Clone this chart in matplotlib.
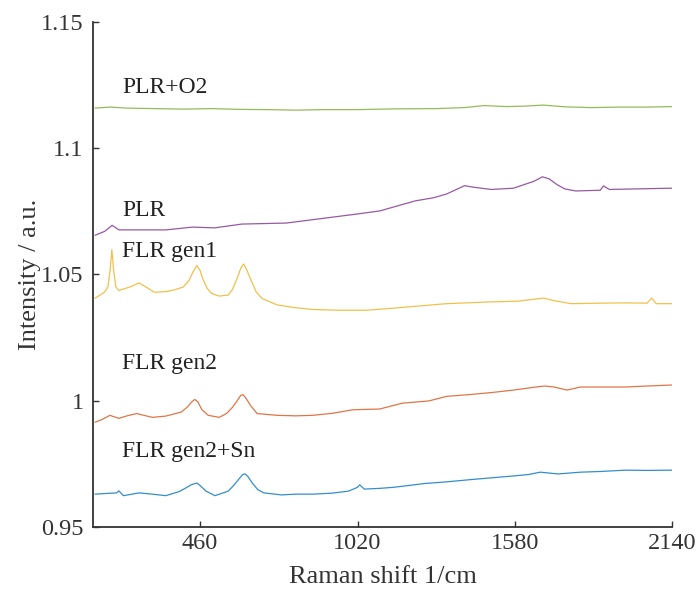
import numpy as np
import matplotlib.pyplot as plt

## Raman spectra

# FLR gen2+Sn (blue)
x_sn = [87, 130, 163, 171, 187, 243, 290, 338, 385, 410, 430, 449, 462, 481, 513, 560, 580, 598, 612, 620,
        630, 645, 665, 687, 750, 800, 861, 930, 988, 1020, 1028, 1044, 1100, 1147, 1200, 1258, 1330, 1417,
        1500, 1575, 1630, 1670, 1734, 1813, 1890, 1972, 2050, 2138]
y_sn = [0.9630, 0.9633, 0.9635, 0.9643, 0.9624, 0.9635, 0.9630, 0.9624, 0.9640, 0.9655, 0.9668, 0.9674,
        0.9662, 0.9642, 0.9624, 0.9642, 0.9665, 0.9690, 0.9708, 0.9710, 0.9700, 0.9675, 0.9648, 0.9635,
        0.9627, 0.9630, 0.9630, 0.9634, 0.9642, 0.9657, 0.9667, 0.9650, 0.9653, 0.9657, 0.9664, 0.9672,
        0.9678, 0.9687, 0.9695, 0.9702, 0.9708, 0.9717, 0.9710, 0.9717, 0.9720, 0.9725, 0.9724, 0.9725]

# FLR gen2 (orange)
x_g2 = [87, 110, 139, 171, 200, 235, 260, 290, 338, 393, 415, 430, 441, 452, 466, 489, 528, 555, 576, 592,
        604, 612, 622, 640, 663, 734, 800, 861, 930, 1004, 1099, 1179, 1274, 1337, 1417, 1496, 1575, 1654,
        1686, 1720, 1750, 1766, 1813, 1890, 1972, 2050, 2138]
y_g2 = [0.9915, 0.9925, 0.9942, 0.9930, 0.9940, 0.9949, 0.9942, 0.9934, 0.9939, 0.9955, 0.9975, 0.9995,
        1.0005, 0.9995, 0.9965, 0.9942, 0.9934, 0.9950, 0.9975, 1.0000, 1.0020, 1.0024, 1.0012, 0.9980,
        0.9949, 0.9942, 0.9940, 0.9942, 0.9950, 0.9964, 0.9967, 0.9990, 0.9999, 1.0017, 1.0024, 1.0032,
        1.0042, 1.0054, 1.0058, 1.0054, 1.0046, 1.0042, 1.0054, 1.0054, 1.0054, 1.0058, 1.0062]

# FLR gen1 (yellow)
x_g1 = [87, 120, 132, 140, 146, 152, 160, 171, 210, 243, 270, 298, 340, 370, 400, 420, 435, 448, 460, 470,
        485, 500, 528, 560, 575, 592, 605, 615, 625, 640, 660, 680, 734, 800, 861, 950, 1052, 1179, 1337,
        1496, 1591, 1683, 1718, 1781, 1880, 1972, 2050, 2067, 2083, 2138]
y_g1 = [1.0406, 1.0430, 1.0451, 1.0520, 1.0598, 1.0520, 1.0451, 1.0436, 1.0450, 1.0466, 1.0448, 1.0429,
        1.0432, 1.0439, 1.0450, 1.0475, 1.0510, 1.0535, 1.0515, 1.0480, 1.0445, 1.0425, 1.0414, 1.0418,
        1.0440, 1.0485, 1.0525, 1.0541, 1.0520, 1.0480, 1.0430, 1.0405, 1.0379, 1.0368, 1.0361, 1.0358,
        1.0358, 1.0369, 1.0384, 1.0391, 1.0394, 1.0406, 1.0396, 1.0384, 1.0386, 1.0387, 1.0386, 1.0406,
        1.0384, 1.0384]

# PLR (purple)
x_plr = [87, 120, 147, 171, 250, 338, 433, 512, 608, 766, 893, 1020, 1099, 1226, 1290, 1337, 1401, 1432,
         1496, 1575, 1647, 1678, 1702, 1730, 1758, 1797, 1884, 1895, 1916, 2000, 2138]
y_plr = [1.0655, 1.0670, 1.0694, 1.0676, 1.0676, 1.0676, 1.0687, 1.0684, 1.0699, 1.0703, 1.0721, 1.0739,
         1.0751, 1.0791, 1.0803, 1.0818, 1.0851, 1.0845, 1.0836, 1.0841, 1.0868, 1.0886, 1.0878, 1.0855,
         1.0838, 1.0830, 1.0833, 1.0850, 1.0836, 1.0838, 1.0841]

# PLR+O2 (green)
x_o2 = [87, 140, 200, 300, 400, 500, 600, 700, 800, 900, 1020, 1150, 1300, 1400, 1470, 1550, 1620, 1680,
        1760, 1850, 1950, 2050, 2138]
y_o2 = [1.1158, 1.1162, 1.1158, 1.1156, 1.1154, 1.1156, 1.1153, 1.1152, 1.1150, 1.1152, 1.1152, 1.1155,
        1.1156, 1.1160, 1.1168, 1.1164, 1.1166, 1.1170, 1.1163, 1.1160, 1.1162, 1.1162, 1.1164]

labels = ['FLR gen2+Sn', 'FLR gen2', 'FLR gen1', 'PLR', 'PLR+O2']
label_y = [0.9797, 1.0149, 1.0592, 1.0751, 1.1238]

colors = ['#0072BD', '#D95319', '#EDB120', '#7E2F8E', '#77AC30']

plt.rcParams['font.family'] = ['Liberation Serif', 'DejaVu Serif']

fig = plt.figure(figsize=(7, 5.93), dpi=100)
ax = fig.add_axes([0.1333, 0.1113, 0.8271, 0.8521])

series = [(x_sn, y_sn), (x_g2, y_g2), (x_g1, y_g1), (x_plr, y_plr), (x_o2, y_o2)]
for (xs, ys), c in zip(series, colors):
    ax.plot(xs, ys, color=c, lw=0.9, alpha=0.8)

for lab, ly in zip(labels, label_y):
    ax.text(182, ly, lab, fontsize=17, va='center', ha='left', color='#222222')

ax.set_xlim(80, 2140)
ax.set_ylim(0.95, 1.15)
ax.set_xticks([460, 1020, 1580, 2140])
ax.set_yticks([0.95, 1.0, 1.05, 1.1, 1.15])
ax.set_yticklabels(['0.95', '1', '1.05', '1.1', '1.15'])
ax.tick_params(direction='in', length=4, width=1, labelsize=17.5, colors='#333333')
ax.tick_params(axis='y', pad=7)
ax.tick_params(axis='x', pad=4)
ax.spines['top'].set_visible(False)
ax.spines['right'].set_visible(False)
for s in ['left', 'bottom']:
    ax.spines[s].set_linewidth(1.3)
    ax.spines[s].set_color('#333333')

ax.set_xlabel('Raman shift 1/cm', fontsize=19, color='#333333', labelpad=9)
ax.set_ylabel('Intensity / a.u.', fontsize=19, color='#333333', labelpad=0)

plt.savefig('out.png', dpi=100)
